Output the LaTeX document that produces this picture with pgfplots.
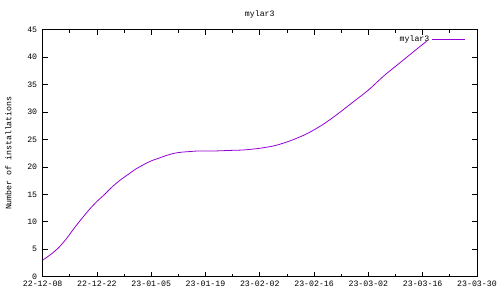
\documentclass[border=0pt]{standalone}
\usepackage{pgfplots}
\pgfplotsset{compat=1.18}
\usepackage{fontspec}
\setmainfont{Liberation Mono}
\definecolor{gpviolet}{RGB}{148,0,211}
\begin{document}
\begin{tikzpicture}[x=1pt,y=1pt]
\path (0,0) rectangle (500,300);
\begin{axis}[
  at={(43pt,21pt)}, anchor=south west,
  scale only axis, width=438pt, height=249pt,
  xmin=0, xmax=112, ymin=0, ymax=45,
  xtick={0,14,...,112},
  xticklabels={22-12-08,22-12-22,23-01-05,23-01-19,23-02-02,23-02-16,23-03-02,23-03-16,23-03-30},
  minor xtick={7,21,...,105},
  ytick={0,5,...,45},
  tick align=inside,
  major tick length=5pt, minor tick length=3pt,
  tick style={black, line width=0.8pt},
  axis line style={black, line width=0.8pt},
  /pgf/number format/assume math mode=true,
  ticklabel style={font=\fontsize{8.3}{10}\selectfont},
  xticklabel style={yshift=-1pt},
  yticklabel style={xshift=-2pt},
  title={mylar3},
  title style={font=\fontsize{8.3}{10}\selectfont, yshift=2pt},
  ylabel={Number of installations},
  ylabel style={font=\fontsize{8.3}{10}\selectfont, yshift=9pt},
  legend style={draw=none, fill=none, at={(1,1)}, anchor=north east,
    xshift=-8pt, yshift=-2pt, font=\fontsize{8.3}{10}\selectfont,
    legend cell align=right},
  legend plot pos=right,
  legend image code/.code={\path (0pt,0pt) -- (34pt,0pt); \draw[gpviolet, line width=0.8pt, #1] (6pt,0pt) -- (34pt,0pt);},
]
\addplot[gpviolet, line width=0.8pt, smooth] coordinates {
(0,3.0) (2,4.0) (4,5.2) (6,6.8) (8,8.7) (10,10.5) (12,12.2) (14,13.7)
(16,15.0) (18,16.4) (20,17.6) (22,18.6) (24,19.6) (26,20.4) (28,21.1)
(30,21.6) (32,22.1) (34,22.5) (36,22.7) (38,22.8) (40,22.9) (44,22.9)
(48,23.0) (52,23.1) (56,23.4) (60,23.9) (64,24.8) (68,26.0) (72,27.6)
(76,29.6) (80,31.8) (84,34.0) (88,36.6) (92,38.9) (96,41.2) (99,42.9)
};
\addlegendentry{mylar3}
\end{axis}
\end{tikzpicture}
\end{document}
